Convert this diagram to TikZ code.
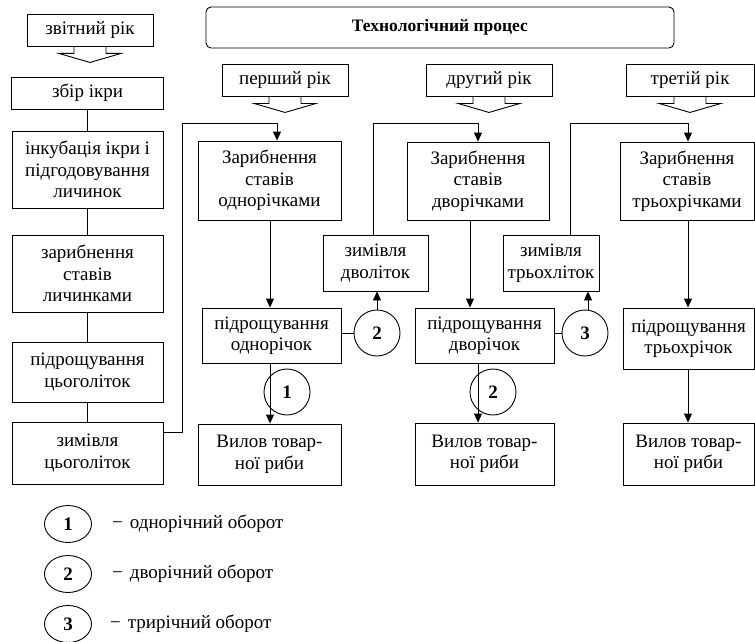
\documentclass[tikz,border=0pt]{standalone}
\usepackage{fontspec}
\setmainfont{Liberation Serif}
\usetikzlibrary{arrows.meta,shapes.geometric}
\newcommand{\fs}{\fontsize{19}{21.5}\selectfont}
\tikzset{
  box/.style={draw, line width=0.9pt, align=center, inner sep=0pt, font=\fs},
  num/.style={draw, circle, line width=0.9pt, minimum size=46pt, inner sep=0pt, font=\fs\bfseries},
  lnum/.style={draw, ellipse, line width=0.9pt, minimum width=47pt, minimum height=37pt, inner sep=0pt, font=\fs\bfseries},
  ln/.style={line width=0.9pt},
  arr/.style={line width=0.9pt, -{Triangle[length=9pt,width=8pt]}},
  leg/.style={anchor=west, inner sep=0pt, font=\fs},
}
\begin{document}
\begin{tikzpicture}[x=1pt,y=-1pt]
\useasboundingbox (0,0) rectangle (755,642);
\fill[white] (0,0) rectangle (755,642);

% title
\node[box, rounded corners=5pt, minimum width=468pt, minimum height=41pt, font=\fontsize{17.5}{21}\selectfont\bfseries] (title) at (440,27.5) {Технологічний процес};

% year callouts
\node[box, minimum width=126pt, minimum height=32pt] (y0) at (90,30) {звітний рік};
\node[box, minimum width=126pt, minimum height=32pt] (y1) at (285,80) {перший рік};
\node[box, minimum width=126pt, minimum height=32pt] (y2) at (489,80) {другий рік};
\node[box, minimum width=128pt, minimum height=32pt] (y3) at (690,80) {третій рік};
\foreach \n in {y0,y1,y2,y3}{
  \draw[ln, line join=miter] ([xshift=-16pt]\n.south) -- ++(0,7) -- ++(-15,0) -- ++(31,9) -- ++(31,-9) -- ++(-15,0) -- ++(0,-7);
}

% left column
\node[box, minimum width=152pt, minimum height=32pt] (zbir) at (87.5,93) {збір ікри};
\node[box, minimum width=151pt, minimum height=77pt] (inkub) at (87.5,169.5) {інкубація ікри і\\підгодовування\\личинок};
\node[box, minimum width=151pt, minimum height=77pt] (zar0) at (87.5,273.5) {зарибнення\\ставів\\личинками};
\node[box, minimum width=151pt, minimum height=60pt] (pid0) at (87.5,372) {підрощування\\цьоголіток};
\node[box, minimum width=151pt, minimum height=62pt] (zym0) at (87.5,453) {зимівля\\цьоголіток};
\draw[ln] (zbir.south) -- (inkub.north);
\draw[ln] (inkub.south) -- (zar0.north);
\draw[ln] (zar0.south) -- (pid0.north);
\draw[ln] (pid0.south) -- (zym0.north);

% column 1
\node[box, minimum width=143pt, minimum height=79pt] (zar1) at (269.5,180.5) {Зарибнення\\ставів\\однорічками};
\node[box, minimum width=105pt, minimum height=56pt] (zym1) at (375.5,263) {зимівля\\дволіток};
\node[box, minimum width=139pt, minimum height=55pt] (pid1) at (271.5,335.5) {підрощування\\однорічок};
\node[num] (c2a) at (377,333) {2};
\node[num] (c1) at (287,392) {1};
\node[box, minimum width=143pt, minimum height=61pt] (vyl1) at (269.5,454.5) {Вилов товар-\\ної риби};

% column 2
\node[box, minimum width=142pt, minimum height=78pt] (zar2) at (478,181) {Зарибнення\\ставів\\дворічками};
\node[box, minimum width=96pt, minimum height=56pt] (zym2) at (551,263) {зимівля\\трьохліток};
\node[box, minimum width=139pt, minimum height=55pt] (pid2) at (484.5,335.5) {підрощування\\дворічок};
\node[num] (c3) at (585,333) {3};
\node[num] (c2b) at (493,392) {2};
\node[box, minimum width=139pt, minimum height=62pt] (vyl2) at (484.5,454) {Вилов товар-\\ної риби};

% column 3
\node[box, minimum width=134pt, minimum height=78pt] (zar3) at (687,181) {Зарибнення\\ставів\\трьохрічками};
\node[box, minimum width=131pt, minimum height=61pt] (pid3) at (688.5,338.5) {підрощування\\трьохрічок};
\node[box, minimum width=131pt, minimum height=62pt] (vyl3) at (688.5,454) {Вилов товар-\\ної риби};

% connectors
\coordinate (k0) at (182,123);
\coordinate (h) at (0,123);
\draw[arr] ([yshift=21pt]zym0.east) -| (k0) -| ([xshift=7.5pt]zar1.north);
\draw[arr] ([xshift=-2.5pt]zym1.north) |- (zar2.north |- h) -- (zar2.north);
\draw[arr] ([xshift=19pt]zym2.north) |- ([xshift=1pt]zar3.north |- h) -- ([xshift=1pt]zar3.north);

\draw[arr] ([xshift=0.5pt]zar1.south) -- ([xshift=0.5pt]zar1.south |- pid1.north);
\draw[arr] ([xshift=-1.5pt]pid1.south) -- ([xshift=-1.5pt]pid1.south |- vyl1.north);
\draw[ln] (pid1.east |- c2a.center) -- (c2a.west);
\draw[arr] (c2a.north) -- (c2a.north |- zym1.south);

\draw[arr] ([xshift=-8pt]zar2.south) -- ([xshift=-8pt]zar2.south |- pid2.north);
\draw[arr] ([xshift=-6.5pt]pid2.south) -- ([xshift=-6.5pt]pid2.south |- vyl2.north);
\draw[ln] (pid2.east |- c3.center) -- (c3.west);
\draw[arr] ([xshift=3pt]c3.north) -- ([xshift=3pt]c3.north |- zym2.south);

\draw[arr] ([xshift=1pt]zar3.south) -- ([xshift=1pt]zar3.south |- pid3.north);
\draw[arr] ([xshift=-0.5pt]pid3.south) -- ([xshift=-0.5pt]pid3.south |- vyl3.north);

% legend
\node[lnum] (L1) at (68,524) {1};
\node[lnum] (L2) at (68,574) {2};
\node[lnum] (L3) at (68,624) {3};
\node[leg] (t1) at (112,524) {−\hspace{7pt}однорічний оборот};
\node[leg] (t2) at (112,574) {−\hspace{7pt}дворічний оборот};
\node[leg] (t3) at (110,624) {−\hspace{7pt}трирічний оборот};
\end{tikzpicture}
\end{document}
